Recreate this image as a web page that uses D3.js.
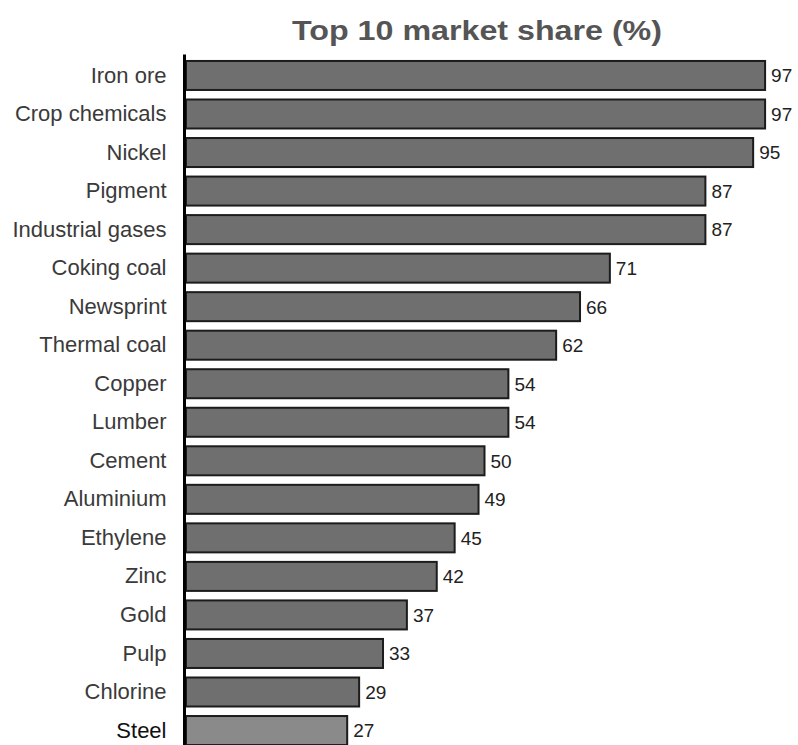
<!DOCTYPE html>
<html>
<head>
<meta charset="utf-8">
<script src="https://cdn.jsdelivr.net/npm/d3@7"></script>
<style>
  html, body { margin: 0; padding: 0; background: #fff; }
  svg { display: block; font-family: "Liberation Sans", Arial, Helvetica, sans-serif; }
</style>
</head>
<body>
<svg id="chart" width="798" height="745"></svg>
<script>
// Market share held by the top 10 producers, per commodity
const categories = [
  "Iron ore", "Crop chemicals", "Nickel", "Pigment", "Industrial gases",
  "Coking coal", "Newsprint", "Thermal coal", "Copper", "Lumber",
  "Cement", "Aluminium", "Ethylene", "Zinc", "Gold", "Pulp", "Chlorine", "Steel"
];
const shares = [97, 97, 95, 87, 87, 71, 66, 62, 54, 54, 50, 49, 45, 42, 37, 33, 29, 27];
const highlighted = ["Steel"];
const titleText = "Top 10 market share (%)";

const data = categories.map((c, i) => ({ name: c, value: shares[i] }));

const svg = d3.select("#chart");

const x = d3.scaleLinear().domain([0, 100]).range([186, 783]);
const y = d3.scaleBand()
  .domain(categories)
  .range([56.2, 749.8])
  .paddingInner(0.247)
  .paddingOuter(0.1235);

// Title, stretched to the wide banner style
svg.append("text")
  .attr("x", 292)
  .attr("y", 40)
  .attr("font-size", 27)
  .attr("font-weight", "bold")
  .attr("fill", "#555")
  .attr("textLength", 370)
  .attr("lengthAdjust", "spacingAndGlyphs")
  .text(titleText);

// Bars
svg.append("g").selectAll("rect")
  .data(data)
  .join("rect")
  .attr("x", x(0))
  .attr("y", d => y(d.name))
  .attr("width", d => x(d.value) - x(0))
  .attr("height", y.bandwidth())
  .attr("fill", d => highlighted.includes(d.name) ? "#8a8a8a" : "#6f6f6f")
  .attr("stroke", "#1c1c1c")
  .attr("stroke-width", 2);

// Value labels
svg.append("g").selectAll("text")
  .data(data)
  .join("text")
  .attr("x", d => x(d.value) + 6)
  .attr("y", d => y(d.name) + y.bandwidth() / 2)
  .attr("dy", "0.36em")
  .attr("font-size", 19)
  .attr("fill", "#222")
  .text(d => d.value);

// Category axis
const axis = svg.append("g")
  .attr("transform", "translate(184.5,0)")
  .call(d3.axisLeft(y).tickSize(0).tickPadding(18));
axis.select(".domain")
  .attr("stroke", "#000")
  .attr("stroke-width", 3)
  .attr("d", "M0,54.5V745");
axis.selectAll(".tick text")
  .attr("font-size", 22)
  .attr("font-family", "\"Liberation Sans\", Arial, sans-serif")
  .attr("fill", d => highlighted.includes(d) ? "#111" : "#3a3a3a");
</script>
</body>
</html>
